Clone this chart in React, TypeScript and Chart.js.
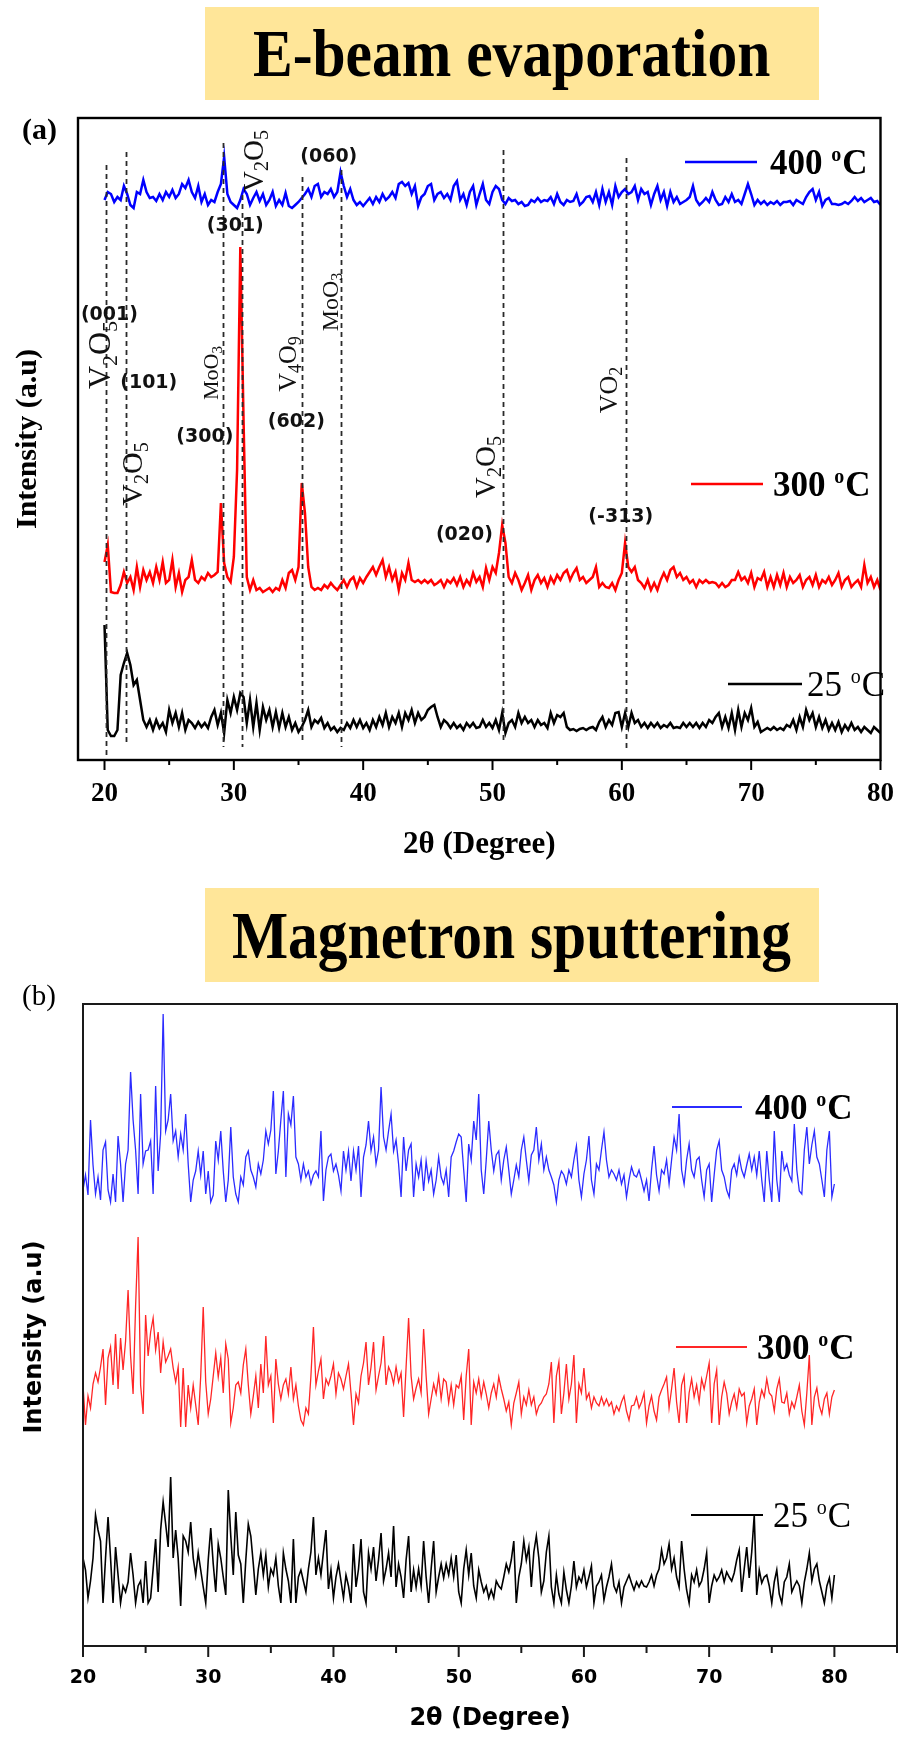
import React, { useEffect, useRef } from "react";
import { Chart, registerables } from "chart.js";

Chart.register(...registerables);

const SERIF = '"Liberation Serif", "Times New Roman", serif';
const SANS = '"DejaVu Sans", sans-serif';

// ---------------- Panel (a): E-beam evaporation ----------------
const aStart = 20;
const aStep = 0.25;

const aBlue400 = [
  560, 568, 566, 558, 563, 560, 574, 566, 555, 552, 568, 566, 580, 568, 562, 563,
  559, 566, 560, 568, 563, 570, 562, 566, 576, 572, 580, 568, 562, 574, 558, 566,
  555, 560, 558, 568, 576, 603, 566, 558, 555, 552, 560, 571, 566, 555, 562, 568,
  559, 566, 555, 560, 568, 554, 560, 555, 567, 554, 552, 555, 558, 562, 566, 571,
  563, 574, 576, 563, 568, 566, 571, 563, 568, 588, 574, 563, 571, 560, 555, 558,
  554, 558, 562, 556, 563, 558, 566, 560, 563, 568, 562, 576, 578, 574, 577, 566,
  574, 554, 563, 566, 574, 576, 560, 566, 568, 562, 566, 560, 574, 579, 560, 566,
  555, 568, 574, 555, 566, 576, 560, 556, 568, 574, 571, 560, 556, 562, 559, 560,
  556, 558, 554, 555, 560, 558, 562, 558, 560, 559, 563, 556, 566, 558, 555, 560,
  558, 559, 566, 555, 558, 563, 564, 558, 568, 555, 571, 558, 568, 555, 574, 563,
  568, 571, 566, 568, 574, 560, 571, 566, 568, 555, 566, 574, 560, 568, 554, 568,
  558, 563, 556, 558, 560, 563, 574, 560, 555, 558, 562, 558, 568, 560, 555, 556,
  563, 558, 566, 558, 560, 556, 566, 576, 566, 555, 560, 556, 559, 555, 558, 556,
  559, 555, 558, 558, 559, 555, 560, 558, 556, 563, 568, 571, 560, 568, 554, 560,
  562, 556, 556, 555, 556, 558, 556, 559, 563, 559, 562, 558, 560, 562, 558, 559,
  555,
];

const aRed300 = [
  198, 215, 168, 167, 167, 175, 188, 177, 183, 170, 193, 173, 190, 180, 188, 177,
  193, 180, 198, 177, 180, 200, 173, 187, 168, 180, 183, 200, 180, 177, 183, 180,
  187, 183, 185, 188, 257, 197, 183, 178, 203, 290, 513, 340, 183, 170, 180, 170,
  172, 168, 170, 172, 168, 172, 170, 180, 172, 187, 190, 180, 193, 277, 247, 193,
  173, 170, 172, 170, 175, 172, 177, 173, 170, 175, 180, 173, 180, 183, 173, 182,
  177, 183, 188, 193, 185, 193, 200, 183, 193, 180, 188, 170, 187, 180, 197, 180,
  178, 180, 177, 180, 177, 180, 175, 177, 180, 173, 180, 177, 182, 175, 183, 173,
  180, 175, 187, 178, 183, 173, 192, 180, 193, 187, 207, 235, 217, 183, 177, 187,
  180, 170, 177, 185, 170, 180, 185, 177, 182, 173, 183, 177, 185, 180, 187, 190,
  180, 187, 192, 180, 183, 177, 180, 183, 193, 173, 177, 173, 172, 177, 170, 180,
  187, 217, 193, 188, 193, 180, 177, 172, 180, 170, 177, 170, 180, 187, 180, 190,
  193, 183, 187, 180, 183, 177, 180, 173, 180, 177, 180, 177, 178, 177, 173, 177,
  173, 175, 180, 180, 188, 180, 183, 177, 187, 173, 182, 180, 188, 173, 183, 173,
  185, 175, 187, 173, 183, 177, 180, 185, 173, 180, 183, 175, 185, 173, 180, 177,
  183, 175, 180, 187, 173, 180, 183, 173, 177, 180, 173, 195, 177, 183, 173, 180,
  170,
];

const aBlack25 = [
  135, 30, 24, 24, 30, 85, 97, 107, 95, 75, 80, 60, 40, 33, 40, 30,
  40, 32, 37, 28, 50, 37, 47, 33, 47, 30, 40, 37, 32, 38, 33, 37,
  32, 43, 50, 35, 47, 27, 60, 47, 63, 50, 67, 63, 37, 60, 33, 57,
  30, 53, 40, 50, 33, 48, 32, 47, 33, 43, 30, 37, 28, 33, 40, 50,
  33, 40, 37, 42, 32, 37, 30, 33, 28, 32, 30, 37, 32, 40, 33, 40,
  32, 37, 30, 40, 33, 43, 35, 47, 33, 43, 37, 47, 33, 47, 40, 50,
  37, 47, 40, 43, 50, 53, 55, 43, 33, 40, 37, 32, 37, 32, 35, 30,
  37, 33, 37, 32, 33, 40, 33, 37, 32, 40, 30, 47, 27, 37, 40, 33,
  47, 37, 43, 37, 40, 33, 40, 35, 37, 32, 47, 37, 45, 43, 47, 33,
  30, 31, 29, 31, 32, 30, 32, 33, 30, 38, 43, 33, 40, 35, 47, 48,
  33, 47, 33, 47, 37, 40, 33, 37, 32, 37, 33, 37, 32, 35, 33, 37,
  32, 33, 32, 37, 33, 37, 33, 37, 32, 37, 33, 40, 37, 43, 47, 33,
  43, 32, 47, 30, 50, 33, 47, 40, 52, 33, 38, 28, 30, 32, 30, 33,
  30, 32, 30, 35, 33, 40, 30, 43, 33, 50, 40, 47, 33, 43, 32, 40,
  30, 37, 30, 38, 28, 35, 30, 37, 30, 33, 28, 33, 30, 27, 33, 30,
  27,
];

const aSeriesNames = ["400", "300", "25"];
const aColors = ["#0000ff", "#ff0000", "#000000"];

const aXMin = 17.95;
const aXMax = 80;
const aYMax = 642;
const aXTicks = [20, 30, 40, 50, 60, 70, 80];
const aXMinorTicks = [25, 35, 45, 55, 65, 75];

// dashed reference lines
const aRefX = [20.1, 21.7, 29.2, 30.6, 35.3, 38.3, 50.85, 60.35];
const aRefTop = [595, 608, 617, 565, 583, 590, 610, 602];
const aRefBottom = [3, 18, 13, 13, 20, 13, 20, 12];

// Miller-index labels
const aHklText = ["(001)", "(101)", "(300)", "(301)", "(602)", "(060)", "(020)", "(-313)"];
const aHklX = [20.38, 23.42, 27.76, 30.11, 34.83, 37.34, 47.83, 59.92];
const aHklY = [445, 377, 323, 534, 338, 603, 225, 243];

// phase labels (rotated)
const aPhaseText = ["V2O5", "V2O5", "MoO3", "V2O5", "V4O9", "MoO3", "V2O5", "VO2"];
const aPhaseX = [19.62, 22.13, 28.21, 31.48, 34.14, 37.41, 49.43, 58.94];
const aPhaseY = [405, 286, 387, 599, 396, 458, 293, 370];
const aPhaseSize = [32, 30, 22, 29, 26, 24, 29, 26];

// ---------------- Panel (b): Magnetron sputtering ----------------
const bStart = 20;
const bStep = 0.2;

const bBlue400 = [
  456, 471, 451, 526, 481, 452, 469, 446, 496, 504, 456, 444, 472, 444, 510,
  482, 444, 482, 496, 574, 526, 496, 452, 552, 482, 495, 496, 505, 452, 560,
  475, 512, 632, 515, 526, 552, 505, 515, 489, 512, 496, 532, 482, 444, 466,
  475, 495, 471, 495, 452, 475, 444, 451, 505, 486, 515, 475, 444, 466, 519,
  469, 452, 444, 469, 461, 489, 495, 476, 469, 459, 482, 472, 486, 515, 502,
  516, 555, 472, 495, 526, 555, 469, 532, 521, 550, 489, 482, 466, 482, 469,
  475, 462, 471, 475, 469, 515, 445, 476, 489, 492, 475, 482, 471, 455, 495,
  476, 495, 465, 495, 476, 500, 449, 489, 501, 525, 495, 509, 482, 496, 559,
  509, 496, 515, 532, 495, 506, 482, 449, 509, 475, 496, 502, 449, 482, 469,
  486, 455, 485, 465, 476, 452, 466, 489, 469, 462, 476, 449, 489, 495, 504,
  512, 509, 476, 444, 502, 486, 525, 506, 552, 476, 452, 486, 525, 496, 475,
  491, 495, 466, 486, 499, 476, 452, 466, 481, 469, 496, 509, 486, 465, 491,
  496, 519, 486, 502, 476, 489, 476, 469, 461, 444, 466, 475, 471, 462, 476,
  469, 486, 500, 466, 449, 472, 486, 510, 466, 452, 482, 476, 496, 514, 486,
  469, 476, 472, 466, 476, 462, 471, 449, 466, 479, 471, 469, 476, 466, 455,
  466, 445, 476, 500, 471, 455, 476, 472, 486, 462, 486, 509, 496, 532, 476,
  462, 486, 502, 476, 469, 486, 489, 466, 449, 476, 482, 444, 471, 496, 505,
  476, 469, 456, 449, 476, 482, 471, 489, 476, 469, 481, 492, 476, 489, 471,
  495, 466, 444, 495, 466, 444, 515, 466, 444, 495, 476, 482, 471, 465, 522,
  476, 455, 452, 496, 519, 482, 501, 515, 489, 482, 466, 449, 496, 515, 449,
  462,
];

const bRed300 = [
  261, 221, 250, 238, 262, 273, 264, 279, 297, 241, 288, 299, 261, 312, 257,
  308, 276, 305, 356, 290, 252, 340, 409, 261, 232, 331, 290, 314, 328, 296,
  314, 273, 304, 284, 290, 297, 278, 264, 279, 219, 278, 219, 261, 238, 261,
  241, 221, 270, 339, 264, 232, 247, 270, 293, 269, 288, 253, 302, 287, 223,
  238, 261, 264, 253, 281, 297, 261, 232, 250, 270, 238, 282, 253, 310, 261,
  270, 223, 287, 262, 247, 261, 267, 252, 279, 247, 261, 240, 226, 221, 238,
  232, 270, 319, 261, 275, 287, 247, 267, 261, 270, 282, 252, 273, 267, 257,
  270, 282, 253, 221, 252, 243, 270, 283, 304, 261, 279, 304, 256, 270, 283,
  310, 261, 279, 273, 262, 279, 264, 273, 229, 279, 328, 270, 247, 258, 267,
  253, 317, 270, 232, 247, 262, 252, 270, 247, 267, 264, 243, 261, 241, 261,
  258, 270, 226, 270, 297, 221, 264, 253, 267, 249, 264, 252, 238, 253, 262,
  249, 269, 257, 247, 235, 244, 221, 243, 253, 264, 232, 249, 241, 256, 241,
  249, 232, 240, 243, 249, 252, 262, 284, 223, 270, 284, 232, 253, 282, 247,
  262, 291, 223, 262, 253, 278, 247, 253, 238, 249, 243, 240, 249, 241, 247,
  240, 244, 232, 240, 235, 244, 250, 235, 226, 240, 241, 249, 238, 244, 253,
  223, 240, 250, 235, 226, 249, 256, 262, 269, 238, 257, 278, 244, 223, 261,
  270, 223, 253, 267, 249, 261, 244, 267, 257, 270, 283, 223, 262, 276, 221,
  249, 264, 253, 232, 244, 252, 238, 257, 250, 253, 223, 240, 247, 257, 221,
  244, 256, 249, 267, 253, 250, 235, 257, 267, 244, 243, 253, 232, 244, 238,
  249, 261, 235, 221, 253, 291, 221, 249, 258, 240, 232, 247, 253, 232, 249,
  256,
];

const bBlack25 = [
  88, 76, 48, 65, 88, 131, 116, 105, 43, 88, 129, 88, 43, 99, 71,
  43, 60, 54, 64, 93, 71, 43, 60, 65, 43, 85, 43, 48, 77, 107,
  54, 116, 144, 122, 99, 169, 88, 116, 88, 40, 110, 105, 94, 124, 88,
  71, 93, 76, 59, 43, 86, 118, 82, 54, 102, 88, 69, 51, 156, 110,
  71, 134, 91, 82, 43, 86, 122, 110, 82, 51, 77, 93, 71, 91, 59,
  77, 71, 88, 60, 43, 93, 77, 65, 43, 107, 43, 69, 76, 65, 54,
  77, 94, 129, 71, 88, 71, 94, 116, 57, 76, 48, 69, 82, 65, 48,
  71, 60, 43, 102, 59, 77, 107, 54, 43, 93, 77, 99, 65, 86, 113,
  65, 77, 93, 69, 120, 59, 82, 69, 48, 86, 110, 54, 76, 59, 77,
  60, 105, 69, 43, 77, 105, 54, 69, 82, 68, 82, 71, 88, 69, 91,
  54, 43, 77, 96, 71, 93, 60, 48, 76, 64, 54, 60, 48, 56, 48,
  65, 60, 57, 69, 82, 74, 86, 105, 43, 69, 82, 105, 86, 99, 59,
  94, 110, 88, 54, 65, 94, 110, 59, 43, 71, 52, 43, 74, 56, 43,
  60, 85, 59, 69, 64, 76, 59, 69, 80, 43, 60, 64, 71, 46, 59,
  69, 82, 60, 54, 64, 43, 59, 65, 71, 63, 56, 64, 59, 65, 60,
  59, 64, 71, 60, 71, 77, 96, 82, 88, 102, 77, 88, 69, 59, 105,
  77, 56, 43, 71, 64, 76, 60, 65, 77, 93, 43, 60, 71, 65, 69,
  76, 64, 74, 69, 65, 73, 86, 96, 54, 77, 99, 68, 94, 131, 51,
  76, 63, 69, 71, 60, 43, 64, 76, 52, 43, 64, 69, 82, 54, 60,
  65, 60, 43, 64, 77, 93, 65, 77, 82, 65, 54, 43, 60, 68, 48,
  71,
];

const bSeriesNames = ["400", "300", "25"];
const bColors = ["#2b2bff", "#ff2626", "#000000"];

const bXMin = 20;
const bXMax = 85;
const bYMax = 642;
const bXTicks = [20, 30, 40, 50, 60, 70, 80];
const bXMinorTicks = [25, 35, 45, 55, 65, 75, 85];

// ---------------- drawing helpers ----------------
function drawChem(ctx: CanvasRenderingContext2D, text: string, cx: number, cy: number, size: number) {
  const parts = text.match(/[A-Za-z]+|\d+/g) || [];
  const mainFont = `${size}px ${SERIF}`;
  const subFont = `${Math.round(size * 0.68)}px ${SERIF}`;
  const widths = parts.map((p) => {
    ctx.font = /\d/.test(p) ? subFont : mainFont;
    return ctx.measureText(p).width;
  });
  const total = widths.reduce((s, w) => s + w, 0);
  ctx.save();
  ctx.translate(cx, cy);
  ctx.rotate(-Math.PI / 2);
  ctx.textBaseline = "alphabetic";
  ctx.textAlign = "left";
  ctx.fillStyle = "#111";
  let x = -total / 2;
  const base = size * 0.33;
  parts.forEach((p, i) => {
    const sub = /\d/.test(p);
    ctx.font = sub ? subFont : mainFont;
    ctx.fillText(p, x, sub ? base + size * 0.2 : base);
    x += widths[i];
  });
  ctx.restore();
}

function drawDegLabel(ctx: CanvasRenderingContext2D, num: string, x: number, cy: number, size: number, bold: boolean) {
  const w8 = bold ? "bold " : "";
  const big = `${w8}${size}px ${SERIF}`;
  const small = `${w8}${Math.round(size * 0.58)}px ${SERIF}`;
  const base = cy + size * 0.33;
  ctx.textBaseline = "alphabetic";
  ctx.textAlign = "left";
  ctx.fillStyle = "#000";
  ctx.font = big;
  const first = num + " ";
  ctx.fillText(first, x, base);
  let cx = x + ctx.measureText(first).width;
  ctx.font = small;
  ctx.fillText("o", cx, base - size * 0.36);
  cx += ctx.measureText("o").width + 1;
  ctx.font = big;
  ctx.fillText("C", cx, base);
}

type Decor = {
  id: string;
  majorTicks: number[];
  minorTicks: number[];
  majorLen: number;
  minorLen: number;
  tickWidth: number;
  frameWidth: number;
  frameColor: string;
  refX?: number[];
  refTop?: number[];
  refBottom?: number[];
  hklText?: string[];
  hklX?: number[];
  hklY?: number[];
  phaseText?: string[];
  phaseX?: number[];
  phaseY?: number[];
  phaseSize?: number[];
  yTitle?: { text: string; x: number; dy: number; font: string };
  legendNames: string[];
  legendColors: string[];
  legendX1: number[];
  legendX2: number[];
  legendY: number[];
  legendTX: number[];
  legendLW: number;
  legendSize: number;
  legendBold: boolean[];
};

function makeDecor(d: Decor) {
  return {
    id: d.id,
    afterDatasetsDraw(chart: any) {
      const { ctx, chartArea: ca, scales } = chart;
      const xs = scales.x;
      const ys = scales.y;
      ctx.save();
      if (d.refX && d.refTop && d.refBottom) {
        ctx.setLineDash([5, 4]);
        ctx.strokeStyle = "#2a2a2a";
        ctx.lineWidth = 1.8;
        d.refX.forEach((v, i) => {
          const px = Math.round(xs.getPixelForValue(v)) + 0.5;
          ctx.beginPath();
          ctx.moveTo(px, ys.getPixelForValue(d.refTop![i]));
          ctx.lineTo(px, ys.getPixelForValue(d.refBottom![i]));
          ctx.stroke();
        });
        ctx.setLineDash([]);
      }
      if (d.hklText && d.hklX && d.hklY) {
        ctx.font = `bold 19px ${SANS}`;
        ctx.fillStyle = "#111";
        ctx.textAlign = "center";
        ctx.textBaseline = "middle";
        d.hklText.forEach((t, i) => {
          ctx.fillText(t, xs.getPixelForValue(d.hklX![i]), ys.getPixelForValue(d.hklY![i]));
        });
      }
      if (d.phaseText && d.phaseX && d.phaseY && d.phaseSize) {
        d.phaseText.forEach((t, i) => {
          drawChem(ctx, t, xs.getPixelForValue(d.phaseX![i]), ys.getPixelForValue(d.phaseY![i]), d.phaseSize![i]);
        });
      }
      if (d.yTitle) {
        ctx.save();
        ctx.translate(d.yTitle.x, (ca.top + ca.bottom) / 2 + d.yTitle.dy);
        ctx.rotate(-Math.PI / 2);
        ctx.font = d.yTitle.font;
        ctx.fillStyle = "#000";
        ctx.textAlign = "center";
        ctx.textBaseline = "middle";
        ctx.fillText(d.yTitle.text, 0, 0);
        ctx.restore();
      }
      ctx.lineWidth = d.frameWidth;
      ctx.strokeStyle = d.frameColor;
      ctx.strokeRect(ca.left, ca.top, ca.right - ca.left, ca.bottom - ca.top);
      ctx.lineWidth = d.tickWidth;
      const drawTick = (v: number, len: number) => {
        const px = xs.getPixelForValue(v);
        ctx.beginPath();
        ctx.moveTo(px, ca.bottom);
        ctx.lineTo(px, ca.bottom + len);
        ctx.stroke();
      };
      d.majorTicks.forEach((v) => drawTick(v, d.majorLen));
      d.minorTicks.forEach((v) => drawTick(v, d.minorLen));
      d.legendNames.forEach((n, i) => {
        ctx.strokeStyle = d.legendColors[i];
        ctx.lineWidth = d.legendLW;
        ctx.beginPath();
        ctx.moveTo(d.legendX1[i], d.legendY[i]);
        ctx.lineTo(d.legendX2[i], d.legendY[i]);
        ctx.stroke();
        drawDegLabel(ctx, n, d.legendTX[i], d.legendY[i], d.legendSize, d.legendBold[i]);
      });
      ctx.restore();
    },
  };
}

function seriesData(vals: number[], start: number, step: number) {
  return vals.map((v, i) => ({ x: +(start + i * step).toFixed(2), y: v }));
}

function buildA(): any {
  const sets = [aBlue400, aRed300, aBlack25].map((vals, i) => ({
    label: aSeriesNames[i] + " oC",
    data: seriesData(vals, aStart, aStep),
    borderColor: aColors[i],
    borderWidth: 2.5,
    pointRadius: 0,
    tension: 0,
    fill: false,
  }));
  return {
    type: "line",
    data: { datasets: sets },
    options: {
      responsive: false,
      animation: false,
      devicePixelRatio: 1,
      layout: { padding: { top: 18, right: 19, left: 0, bottom: 0 } },
      plugins: { legend: { display: false }, tooltip: { enabled: false } },
      scales: {
        x: {
          type: "linear",
          min: aXMin,
          max: aXMax,
          afterBuildTicks: (s: any) => {
            s.ticks = aXTicks.map((v) => ({ value: v }));
          },
          afterFit: (s: any) => {
            s.height = 120;
          },
          grid: { display: false, drawTicks: false },
          border: { display: false },
          ticks: {
            color: "#000",
            font: { family: SERIF, size: 27, weight: "bold" },
            padding: 18,
            maxRotation: 0,
            autoSkip: false,
            callback: (v: any) => String(v),
          },
          title: {
            display: true,
            text: "2θ (Degree)",
            color: "#000",
            font: { family: SERIF, size: 31, weight: "bold" },
            padding: { top: 0, bottom: 16 },
          },
        },
        y: {
          type: "linear",
          min: 0,
          max: aYMax,
          afterFit: (s: any) => {
            s.width = 78;
          },
          ticks: { display: false },
          grid: { display: false, drawTicks: false },
          border: { display: false },
          title: {
            display: true,
            text: "Intensity (a.u)",
            color: "#000",
            font: { family: SERIF, size: 30, weight: "bold" },
            padding: { top: 10, bottom: 0 },
          },
        },
      },
    },
    plugins: [
      makeDecor({
        id: "decorA",
        majorTicks: aXTicks,
        minorTicks: aXMinorTicks,
        majorLen: 10,
        minorLen: 5,
        tickWidth: 2,
        frameWidth: 2.4,
        frameColor: "#000",
        refX: aRefX,
        refTop: aRefTop,
        refBottom: aRefBottom,
        hklText: aHklText,
        hklX: aHklX,
        hklY: aHklY,
        phaseText: aPhaseText,
        phaseX: aPhaseX,
        phaseY: aPhaseY,
        phaseSize: aPhaseSize,
        legendNames: aSeriesNames,
        legendColors: aColors,
        legendX1: [685, 691, 728],
        legendX2: [757, 763, 802],
        legendY: [62, 384, 584],
        legendTX: [770, 773, 807],
        legendLW: 2.5,
        legendSize: 35,
        legendBold: [true, true, false],
      }),
    ],
  };
}

function buildB(): any {
  const sets = [bBlue400, bRed300, bBlack25].map((vals, i) => ({
    label: bSeriesNames[i] + " oC",
    data: seriesData(vals, bStart, bStep),
    borderColor: bColors[i],
    borderWidth: i === 2 ? 1.6 : 1.3,
    pointRadius: 0,
    tension: 0,
    fill: false,
  }));
  return {
    type: "line",
    data: { datasets: sets },
    options: {
      responsive: false,
      animation: false,
      devicePixelRatio: 1,
      layout: { padding: { top: 14, right: 15, left: 0, bottom: 0 } },
      plugins: { legend: { display: false }, tooltip: { enabled: false } },
      scales: {
        x: {
          type: "linear",
          min: bXMin,
          max: bXMax,
          afterBuildTicks: (s: any) => {
            s.ticks = bXTicks.map((v) => ({ value: v }));
          },
          afterFit: (s: any) => {
            s.height = 96;
          },
          grid: { display: false, drawTicks: false },
          border: { display: false },
          ticks: {
            color: "#000",
            font: { family: SANS, size: 19, weight: "bold" },
            padding: 21,
            maxRotation: 0,
            autoSkip: false,
            callback: (v: any) => String(v),
          },
          title: {
            display: true,
            text: "2θ (Degree)",
            color: "#000",
            font: { family: SANS, size: 24, weight: "bold" },
            padding: { top: 0, bottom: 9 },
          },
        },
        y: {
          type: "linear",
          min: 0,
          max: bYMax,
          afterFit: (s: any) => {
            s.width = 83;
          },
          ticks: { display: false },
          grid: { display: false, drawTicks: false },
          border: { display: false },
          title: { display: false },
        },
      },
    },
    plugins: [
      makeDecor({
        id: "decorB",
        majorTicks: bXTicks,
        minorTicks: bXMinorTicks,
        majorLen: 11,
        minorLen: 7,
        tickWidth: 2,
        frameWidth: 2,
        frameColor: "#1a1a1a",
        yTitle: { text: "Intensity (a.u)", x: 35, dy: 12, font: `bold 24px ${SANS}` },
        legendNames: bSeriesNames,
        legendColors: bColors,
        legendX1: [672, 676, 691],
        legendX2: [742, 747, 763],
        legendY: [117, 357, 525],
        legendTX: [755, 757, 773],
        legendLW: 1.8,
        legendSize: 35,
        legendBold: [true, true, false],
      }),
    ],
  };
}

function ChartCanvas({ build, top, height }: { build: () => any; top: number; height: number }) {
  const ref = useRef<HTMLCanvasElement | null>(null);
  useEffect(() => {
    if (!ref.current) return;
    const chart = new Chart(ref.current, build());
    return () => chart.destroy();
  }, [build]);
  return (
    <canvas
      ref={ref}
      width={912}
      height={height}
      style={{ position: "absolute", left: 0, top, width: 912, height, display: "block" }}
    />
  );
}

function TitleBox({ text, top, height }: { text: string; top: number; height: number }) {
  return (
    <div
      style={{
        position: "absolute",
        left: 205,
        top,
        width: 614,
        height,
        background: "#ffe699",
        display: "flex",
        alignItems: "center",
        justifyContent: "center",
      }}
    >
      <span
        style={{
          display: "inline-block",
          fontFamily: SERIF,
          fontWeight: "bold",
          fontSize: 68,
          lineHeight: "normal",
          whiteSpace: "nowrap",
          transform: "scaleX(0.875)",
          color: "#000",
        }}
      >
        {text}
      </span>
    </div>
  );
}

export default function App() {
  return (
    <div style={{ position: "absolute", left: 0, top: 0, width: 912, height: 1742, background: "#fff", overflow: "hidden" }}>
      <TitleBox text="E-beam evaporation" top={7} height={93} />
      <ChartCanvas build={buildA} top={100} height={780} />
      <div style={{ position: "absolute", left: 22, top: 112, fontFamily: SERIF, fontWeight: "bold", fontSize: 30, lineHeight: "34px", color: "#000" }}>
        (a)
      </div>
      <TitleBox text="Magnetron sputtering" top={888} height={94} />
      <ChartCanvas build={buildB} top={990} height={752} />
      <div style={{ position: "absolute", left: 22, top: 978, fontFamily: SERIF, fontSize: 29, lineHeight: "34px", color: "#000" }}>
        (b)
      </div>
    </div>
  );
}
